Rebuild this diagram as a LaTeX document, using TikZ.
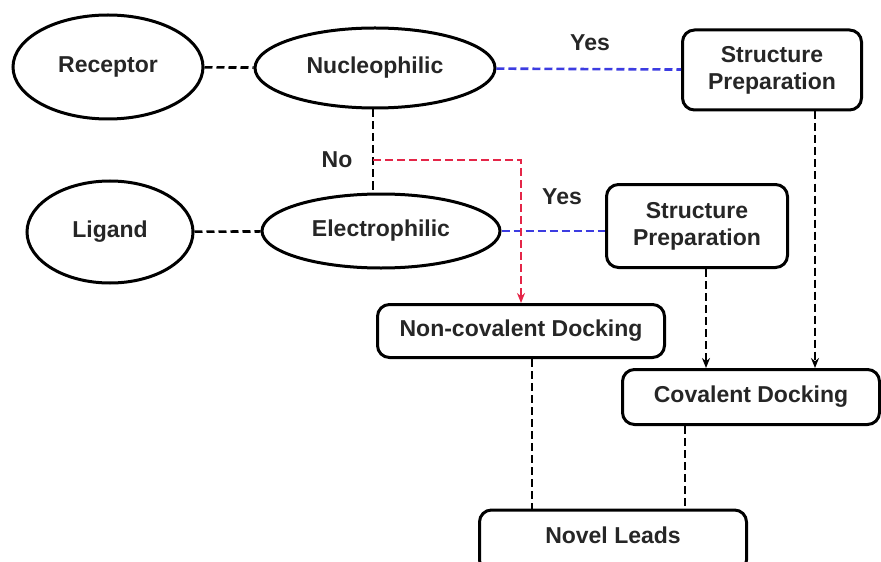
\documentclass[tikz,border=0pt]{standalone}
\usepackage{fontspec}
\setmainfont{Liberation Sans}
\usetikzlibrary{shapes.geometric, arrows.meta}
\definecolor{noRed}{RGB}{228,38,72}
\definecolor{yesBlue}{RGB}{60,60,225}

\begin{document}
\begin{tikzpicture}[x=0.5pt, y=-0.5pt,
    every node/.style={font=\fontsize{11.5}{13.5}\selectfont\bfseries, text=black!85},
    oval/.style={draw, line width=1.5pt, ellipse, inner sep=0pt},
    box/.style={draw, line width=1.5pt, rounded corners=6pt, inner sep=0pt, align=center},
    link/.style={line width=1.3pt, dash pattern=on 4pt off 2pt},
    flow/.style={link, -{Stealth[length=5pt, width=4pt]}}]
    \useasboundingbox (0,0) rectangle (881,561);

    \node[oval, minimum width=95pt, minimum height=52pt] (rec) at (108,67) {Receptor};
    \node[oval, minimum width=120pt, minimum height=40pt] (nuc) at (375,68) {Nucleophilic};
    \node[oval, minimum width=83pt, minimum height=51pt] (lig) at (110,232) {Ligand};
    \node[oval, minimum width=119pt, minimum height=37pt] (ele) at (381,231) {Electrophilic};

    \node[box, minimum width=89.5pt, minimum height=40pt] (sp1) at (772,70) {Structure\\Preparation};
    \node[box, minimum width=90.5pt, minimum height=41.5pt] (sp2) at (697,226) {Structure\\Preparation};
    \node[box, minimum width=143.5pt, minimum height=26.5pt] (ncd) at (521,331) {Non-covalent Docking};
    \node[box, minimum width=128.5pt, minimum height=27.5pt] (cd) at (751,397) {Covalent Docking};
    \node[box, minimum width=133.5pt, minimum height=31pt, text depth=6pt] (nl) at (613,541) {Novel Leads};

    \node (yes1) at (590,43) {Yes};
    \node (yes2) at (562,197) {Yes};
    \node (no) at (337,160) {No};

    \coordinate (nob) at ([xshift=-1pt]nuc.south |- no);
    \coordinate (sp1o) at ([xshift=21.5pt]sp1.south);
    \coordinate (sp2o) at ([xshift=4.5pt]sp2.south);
    \coordinate (ncdo) at ([xshift=5.5pt]ncd.south);
    \coordinate (cdo) at ([xshift=-33pt]cd.south);

    \draw[link] (rec) -- (nuc);
    \draw[link] (lig) -- (ele);
    \draw[link] ([xshift=-1pt]nuc.south) -- ([xshift=-1pt]nuc.south |- ele.north);
    \draw[link, yesBlue] (nuc) -- (sp1);
    \draw[link, yesBlue] (ele.east) -- (ele.east -| sp2.west);
    \draw[flow, noRed] (nob) -| (ncd.north);
    \draw[flow] (sp1o) -- (sp1o |- cd.north);
    \draw[flow] (sp2o) -- (sp2o |- cd.north);
    \draw[link] (ncdo) -- (ncdo |- nl.north);
    \draw[link] (cdo) -- (cdo |- nl.north);
  \end{tikzpicture}
\end{document}
